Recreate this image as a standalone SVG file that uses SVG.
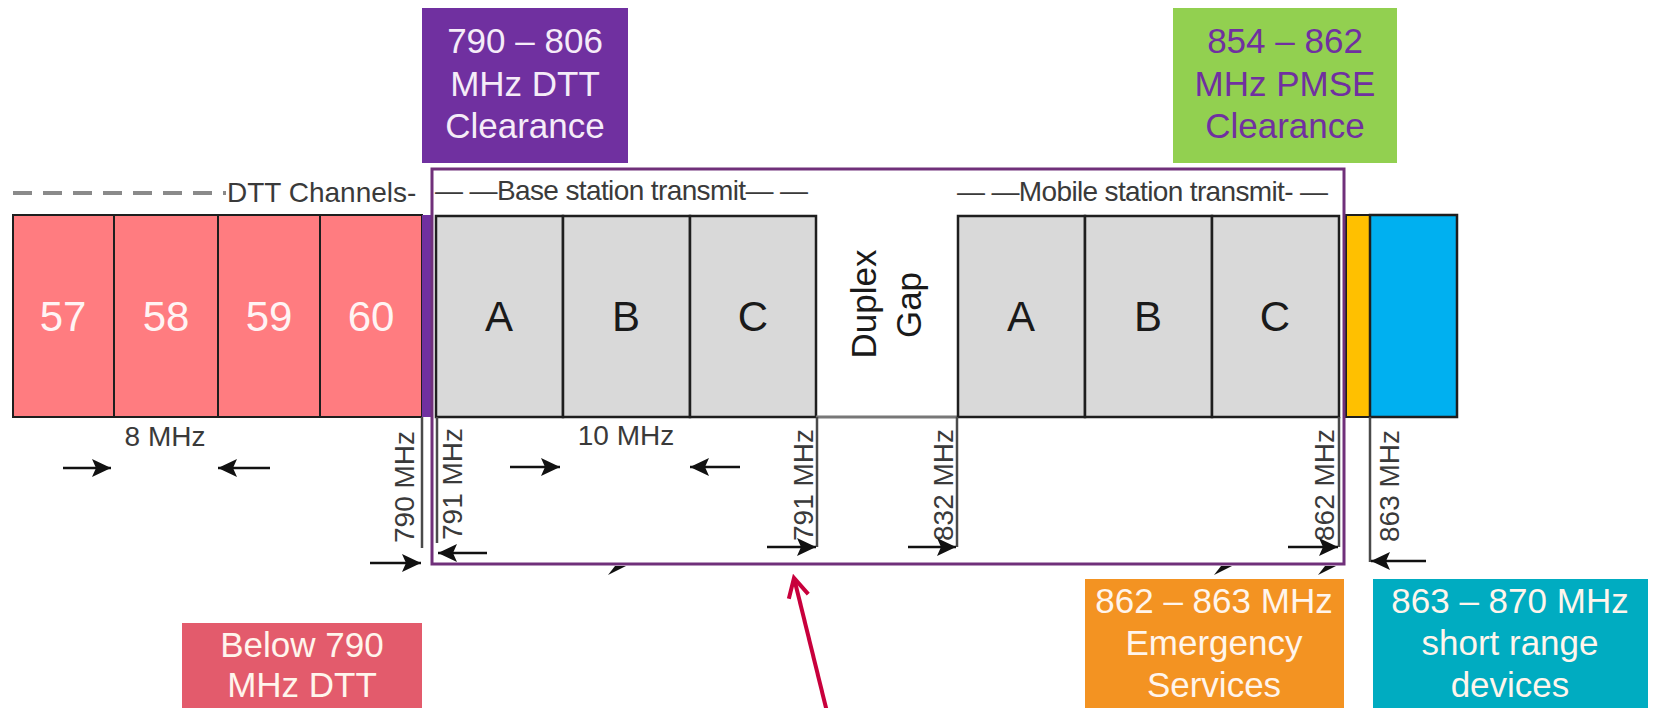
<svg xmlns="http://www.w3.org/2000/svg" width="1656" height="708" viewBox="0 0 1656 708">
<defs>
<style>
text{font-family:"Liberation Sans",Arial,sans-serif}
.big{font-size:42px;text-anchor:middle}
.num{fill:#fff4f4}
.abc{fill:#1a1a1a}
.ch{fill:#ff7c80;stroke:#1e1e1e;stroke-width:2}
.gy{fill:#d9d9d9;stroke:#1e1e1e;stroke-width:2.5}
.lab{font-size:28px;fill:#3a3a3a}
.vl{stroke:#4a4a4a;stroke-width:2.5;fill:none}
.arr{stroke:#111;stroke-width:2.5;fill:none;marker-end:url(#ah)}
.top{font-size:35px;text-anchor:middle}
.bot{font-size:35px;text-anchor:middle;fill:#fff5ec}
</style>
<marker id="ah" markerUnits="userSpaceOnUse" markerWidth="20" markerHeight="20" refX="19" refY="10" orient="auto"><path d="M0,1 L19,10 L0,19 L4,10 z" fill="#111"/></marker>
<marker id="rh" markerUnits="userSpaceOnUse" markerWidth="26" markerHeight="26" refX="22" refY="13" orient="auto"><path d="M3,3 L22,13 L3,23" fill="none" stroke="#c8003c" stroke-width="4"/></marker>
</defs>
<rect width="1656" height="708" fill="#fff"/>

<g id="dtt-clearance">
<rect x="422" y="8" width="206" height="155" fill="#7030a0"/>
<text class="top" x="525" y="53" fill="#f5ecf8">790 – 806</text>
<text class="top" x="525" y="96" fill="#f5ecf8">MHz DTT</text>
<text class="top" x="525" y="138" fill="#f5ecf8">Clearance</text>
</g>

<g id="pmse-clearance">
<rect x="1173" y="8" width="224" height="155" fill="#92d050"/>
<text class="top" x="1285" y="53" fill="#7030a0">854 – 862</text>
<text class="top" x="1285" y="96" fill="#7030a0">MHz PMSE</text>
<text class="top" x="1285" y="138" fill="#7030a0">Clearance</text>
</g>

<g id="dtt-channels">
<line x1="13" y1="193" x2="226" y2="193" stroke="#8a8a8a" stroke-width="4" stroke-dasharray="19 11"/>
<text class="lab" x="227" y="202">DTT Channels-</text>
<rect class="ch" x="13" y="215" width="101" height="202"/>
<rect class="ch" x="114" y="215" width="104" height="202"/>
<rect class="ch" x="218" y="215" width="102" height="202"/>
<rect class="ch" x="320" y="215" width="102" height="202"/>
<text class="big num" x="63" y="331">57</text>
<text class="big num" x="166" y="331">58</text>
<text class="big num" x="269" y="331">59</text>
<text class="big num" x="371" y="331">60</text>
<text class="lab" x="165" y="446" text-anchor="middle">8 MHz</text>
</g>

<g id="clearance-strip">
<rect x="422" y="215" width="9" height="202" fill="#7030a0"/>
</g>

<g id="base-station">
<text class="lab" x="435" y="200" textLength="373">— —Base station transmit— —</text>
<rect class="gy" x="436" y="216" width="127" height="201"/>
<rect class="gy" x="563" y="216" width="127" height="201"/>
<rect class="gy" x="690" y="216" width="126" height="201"/>
<text class="big abc" x="499" y="331">A</text>
<text class="big abc" x="626" y="331">B</text>
<text class="big abc" x="753" y="331">C</text>
<text class="lab" x="626" y="445" text-anchor="middle">10 MHz</text>
</g>

<g id="duplex-gap">
<line x1="816" y1="417" x2="958" y2="417" stroke="#777" stroke-width="3"/>
<text class="abc" font-size="35" text-anchor="middle" transform="translate(876,304) rotate(-90)">Duplex</text>
<text class="abc" font-size="35" text-anchor="middle" transform="translate(921,305) rotate(-90)">Gap</text>
</g>

<g id="mobile-station">
<text class="lab" x="957" y="201" textLength="371">— —Mobile station transmit- —</text>
<rect class="gy" x="958" y="216" width="127" height="201"/>
<rect class="gy" x="1085" y="216" width="127" height="201"/>
<rect class="gy" x="1212" y="216" width="127" height="201"/>
<text class="big abc" x="1021" y="331">A</text>
<text class="big abc" x="1148" y="331">B</text>
<text class="big abc" x="1275" y="331">C</text>
</g>

<g id="emergency-strip">
<rect x="1346" y="215" width="24" height="202" fill="#ffc000" stroke="#1e1e1e" stroke-width="2"/>
</g>

<g id="srd-strip">
<rect x="1370" y="215" width="87" height="202" fill="#00b0f0" stroke="#1e1e1e" stroke-width="2.5"/>
</g>

<g id="lte-band-outline">
<rect x="432" y="169" width="912" height="395" fill="none" stroke="#70307a" stroke-width="3"/>
</g>

<g id="frequency-markers">
<line class="vl" x1="422" y1="417" x2="422" y2="548"/>
<line class="vl" x1="437" y1="417" x2="437" y2="543"/>
<line class="vl" x1="817" y1="417" x2="817" y2="547"/>
<line class="vl" x1="957" y1="417" x2="957" y2="547"/>
<line class="vl" x1="1339" y1="417" x2="1339" y2="547"/>
<line class="vl" x1="1370" y1="417" x2="1370" y2="562"/>
<text class="lab" transform="translate(414,543) rotate(-90)">790 MHz</text>
<text class="lab" transform="translate(462,540) rotate(-90)">791 MHz</text>
<text class="lab" transform="translate(813,541) rotate(-90)">791 MHz</text>
<text class="lab" transform="translate(953,541) rotate(-90)">832 MHz</text>
<text class="lab" transform="translate(1334,541) rotate(-90)">862 MHz</text>
<text class="lab" transform="translate(1399,542) rotate(-90)">863 MHz</text>
</g>

<g id="connectors">
<line class="arr" x1="63" y1="468" x2="111" y2="468"/>
<line class="arr" x1="270" y1="468" x2="218" y2="468"/>
<line class="arr" x1="510" y1="467" x2="560" y2="467"/>
<line class="arr" x1="740" y1="467" x2="690" y2="467"/>
<line class="arr" x1="370" y1="563" x2="421" y2="563"/>
<line class="arr" x1="487" y1="553" x2="438" y2="553"/>
<line class="arr" x1="767" y1="547" x2="816" y2="547"/>
<line class="arr" x1="908" y1="547" x2="956" y2="547"/>
<line class="arr" x1="1288" y1="547" x2="1338" y2="547"/>
<line class="arr" x1="1426" y1="561" x2="1371" y2="561"/>
<polygon points="608,575 626,566 615,566" fill="#111"/>
<polygon points="1214,575 1232,566 1221,566" fill="#111"/>
<polygon points="1318,575 1336,566 1325,566" fill="#111"/>
<line x1="829" y1="720" x2="794" y2="578" stroke="#c8003c" stroke-width="4" marker-end="url(#rh)"/>
</g>

<g id="below-790">
<rect x="182" y="623" width="240" height="90" fill="#e35b6c"/>
<text class="bot" x="302" y="657">Below 790</text>
<text class="bot" x="302" y="697">MHz DTT</text>
</g>

<g id="emergency-services">
<rect x="1085" y="579" width="259" height="134" fill="#f39322"/>
<text class="bot" x="1214" y="613">862 – 863 MHz</text>
<text class="bot" x="1214" y="655">Emergency</text>
<text class="bot" x="1214" y="697">Services</text>
</g>

<g id="short-range-devices">
<rect x="1373" y="579" width="275" height="134" fill="#00acc1"/>
<text class="bot" x="1510" y="613">863 – 870 MHz</text>
<text class="bot" x="1510" y="655">short range</text>
<text class="bot" x="1510" y="697">devices</text>
</g>
</svg>
